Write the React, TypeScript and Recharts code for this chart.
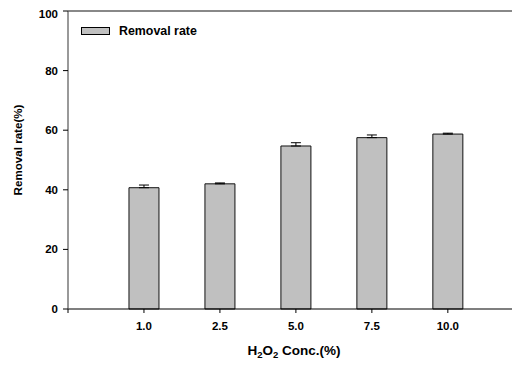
import React from 'react';
import { BarChart, Bar, XAxis, YAxis, ErrorBar, ReferenceLine } from 'recharts';

const concentrations = ['1.0', '2.5', '5.0', '7.5', '10.0'];
const removalRate = [40.7, 42.0, 54.7, 57.5, 58.7];
const removalErr = [0.9, 0.3, 1.1, 0.9, 0.3];
const yTicks = [0, 20, 40, 60, 80, 100];
const seriesName = 'Removal rate';

const data = concentrations.map((c, i) => ({
  x: i + 1,
  label: c,
  value: removalRate[i],
  err: [0, removalErr[i]],
}));

const FONT = '"Liberation Sans", Arial, sans-serif';

const LegendBox = () => (
  <div style={{ position: 'absolute', left: 73, top: 16, display: 'flex', alignItems: 'center', fontFamily: FONT, fontWeight: 'bold', fontSize: 12.4, color: '#000', lineHeight: '14px' }}>
    <span style={{ display: 'inline-block', boxSizing: 'border-box', width: 29, height: 8, background: '#c0c0c0', border: '1px solid #000', marginRight: 9 }} />
    <span>{seriesName}</span>
  </div>
);

const XLabel = (props: any) => {
  const vb = props.viewBox || {};
  const cx = vb.x + vb.width / 2;
  return (
    <text x={cx} y={347} textAnchor="middle" fontFamily={FONT} fontWeight="bold" fontSize={13.5} fill="#000">
      <tspan>H</tspan>
      <tspan fontSize={9.5} dy={3}>2</tspan>
      <tspan dy={-3}>O</tspan>
      <tspan fontSize={9.5} dy={3}>2</tspan>
      <tspan dy={-3}> Conc.(%)</tspan>
    </text>
  );
};

const YLabel = (props: any) => {
  const vb = props.viewBox || {};
  const cy = vb.y + vb.height / 2;
  return (
    <text x={14} y={cy - 10} transform={`rotate(-90, 14, ${cy - 10})`} textAnchor="middle" fontFamily={FONT} fontWeight="bold" fontSize={11.6} fill="#000">
      Removal rate(%)
    </text>
  );
};

export default function App() {
  return (
    <div style={{ width: 512, height: 357, position: 'relative' }}>
      <BarChart width={512} height={357} data={data} margin={{ top: 3, right: 0, bottom: 26, left: 0 }}>
        <XAxis
          type="number"
          dataKey="x"
          domain={[0, 5.95]}
          ticks={[0, 1, 2, 3, 4, 5]}
          interval={0}
          tickFormatter={(v: number) => (v >= 1 ? concentrations[v - 1] : '')}
          height={30}
          tickSize={4}
          tickMargin={9}
          axisLine={{ stroke: '#000', strokeWidth: 1.2 }}
          tickLine={{ stroke: '#000' }}
          tick={{ fill: '#000', fontSize: 11.5, fontWeight: 'bold', fontFamily: FONT }}
          label={<XLabel />}
        />
        <YAxis
          type="number"
          domain={[0, 100]}
          ticks={yTicks}
          width={60}
          tickSize={5}
          tickMargin={5}
          axisLine={{ stroke: '#555', strokeWidth: 1.2 }}
          tickLine={{ stroke: '#000' }}
          tick={{ fill: '#000', fontSize: 11.5, fontWeight: 'bold', fontFamily: FONT }}
          label={<YLabel />}
        />
        <ReferenceLine y={100} stroke="#888" strokeWidth={2} />
        <Bar dataKey="value" name={seriesName} fill="#c0c0c0" stroke="#111" strokeWidth={1} barSize={30} isAnimationActive={false}>
          <ErrorBar dataKey="err" width={5} stroke="#000" strokeWidth={1} direction="y" />
        </Bar>
      </BarChart>
      <LegendBox />
    </div>
  );
}
